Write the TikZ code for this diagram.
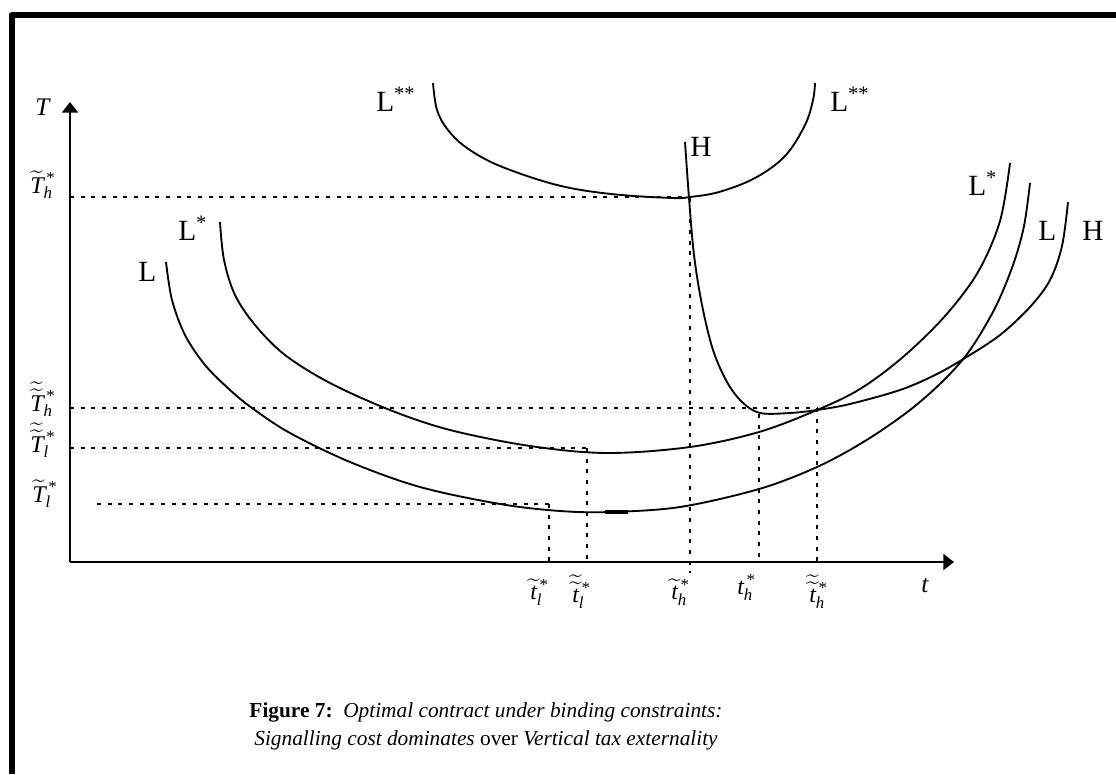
\documentclass[tikz,border=0pt]{standalone}
\usepackage{amsmath}
\usepackage{mathtools}
\usepackage{fontspec}
\setmainfont{Liberation Serif}
\usetikzlibrary{arrows.meta}
\newcommand{\iv}[1]{\textit{#1}}
\newcommand{\st}{\,\text{*}}
\newcommand{\tld}[1]{\mathrlap{\widetilde{\phantom{#1}}}#1}

\begin{document}
\begin{tikzpicture}[x=0.75pt, y=-0.75pt,
    curve/.style={line width=1.4pt, line join=round},
    guide/.style={line width=2pt, dash pattern=on 3pt off 5pt},
    axis/.style={line width=1.4pt, -{Triangle[length=8pt,width=12pt]}},
    curvelab/.style={font=\fontsize{22}{22}\selectfont, inner sep=0pt, anchor=base west},
    axislab/.style={font=\fontsize{19}{19}\selectfont, inner sep=0pt, anchor=base west},
    ticklab/.style={font=\fontsize{18}{18}\selectfont, inner sep=0pt, anchor=base west}
  ]
  \useasboundingbox (0,0) rectangle (1116,774);
  % frame
  \draw[line width=4.5pt, line join=round] (11.5,774) -- (11.5,15) -- (1116,15);

  % axes
  \coordinate (O) at (70,562);
  \draw[axis] (O) -- (70,102);
  \draw[axis] (O) -- (954,562);
  \node[axislab] (Tax) at (35,115) {\iv{T}};
  \node[axislab] (tax) at (921,592) {\iv{t}};

  % guide lines
  \draw[guide] (70,197) -- (688,197);
  \draw[guide] (70,408) -- (817,408);
  \draw[guide] (70,448) -- (587,448);
  \draw[guide] (97,504) -- (549,504);
  \draw[guide] (549,504) -- (549,562);
  \draw[guide] (587,448) -- (587,562);
  \draw[guide] (690,198) -- (690,573);
  \draw[guide] (759,414) -- (759,562);
  \draw[guide] (817,408) -- (817,562);

  % indifference curves
  \draw[curve] plot[smooth, tension=0.55] coordinates {(166,262) (172,300) (185,335) (205,365) (230,390) (252,408) (290,433) (350,462) (420,487) (500,504) (560,511) (610,512) (680,507) (759,489) (817,467) (865,441) (910,410) (945,379) (970,350) (995,308) (1013,265) (1024,226) (1030,183)};
  \draw[line width=2.4pt] (605,512) -- (628,512);
  \draw[curve] plot[smooth, tension=0.55] coordinates {(220,222) (224,260) (235,295) (255,325) (285,355) (330,383) (390,410) (450,430) (530,446) (607,453) (690,447) (759,432) (817,410) (860,389) (903,357) (945,316) (978,272) (1000,221) (1010,163)};
  \draw[curve] plot[smooth, tension=0.55] coordinates {(685,142) (689,198) (694,255) (702,305) (713,350) (727,382) (742,402) (760,413) (790,413) (817,410) (850,404) (900,390) (935,375) (965,358) (1000,335) (1030,307) (1050,280) (1062,246) (1068,202)};
  \draw[curve] plot[smooth, tension=0.6] coordinates {(433,83) (437,110) (448,130) (467,148) (500,166) (557,185) (611,194) (672,198) (690,197) (719,192) (755,178) (785,156) (805,125) (813,100) (815,83)};

  % curve labels
  \node[curvelab] (Ll) at (138,281) {L};
  \node[curvelab] (Lsl) at (178,240) {L\textsuperscript{*}};
  \node[curvelab] (Lssl) at (376,111) {L\textsuperscript{**}};
  \node[curvelab] (Lssr) at (830,111) {L\textsuperscript{**}};
  \node[curvelab] (Ht) at (690,156) {H};
  \node[curvelab] (Lsr) at (968,195) {L\textsuperscript{*}};
  \node[curvelab] (Lr) at (1038,240) {L};
  \node[curvelab] (Hr) at (1082,240) {H};

  % tick labels
  \node[ticklab] (Th) at (30,193) {$\tld{\iv{T}}_{\iv{h}}^{\st}$};
  \node[ticklab] (TTh) at (30,411) {$\tld{\tld{\iv{T}}}_{\iv{h}}^{\st}$};
  \node[ticklab] (TTl) at (30,452) {$\tld{\tld{\iv{T}}}_{\iv{l}}^{\st}$};
  \node[ticklab] (Tl) at (32,502) {$\tld{\iv{T}}_{\iv{l}}^{\st}$};
  \node[ticklab] (tl) at (530,599) {$\tld{\iv{t}}_{\iv{l}}^{\st}$};
  \node[ticklab] (ttl) at (572,602) {$\tld{\tld{\iv{t}}}_{\iv{l}}^{\st}$};
  \node[ticklab] (th) at (671,599) {$\tld{\iv{t}}_{\iv{h}}^{\st}$};
  \node[ticklab] (tsh) at (737,594) {$\iv{t}_{\iv{h}}^{\st}$};
  \node[ticklab] (tth) at (809,602) {$\tld{\tld{\iv{t}}}_{\iv{h}}^{\st}$};

  % caption
  \node[align=center, font=\fontsize{16}{21}\selectfont] (cap) at (486,726)
    {\textbf{Figure 7:}\ \ \textit{Optimal contract under binding constraints:}\\
     \textit{Signalling cost dominates} over \textit{Vertical tax externality}};
\end{tikzpicture}
\end{document}
